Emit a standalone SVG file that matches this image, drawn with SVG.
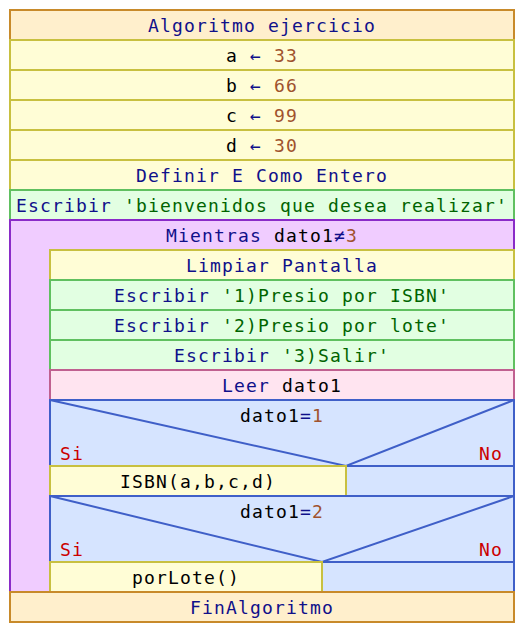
<svg xmlns="http://www.w3.org/2000/svg" width="524" height="632" viewBox="0 0 524 632">
<style>
rect,path,line{stroke-width:2}
.hd{fill:#ffefcc;stroke:#c88a2a}
.yl{fill:#fffdd6;stroke:#c8c040}
.gr{fill:#e2ffe2;stroke:#60c060}
.pu{fill:#f0ccff;stroke:#8a2bc8}
.pk{fill:#ffe4f0;stroke:#c06090}
.bl{fill:#d6e4ff;stroke:#3f5fc8}
.dg{stroke:#3f5fc8;fill:none}
text{font-family:"DejaVu Sans Mono","Liberation Mono",monospace;font-size:18px;letter-spacing:1.16px;fill:#000}
.c{text-anchor:middle}
.e{text-anchor:end}
.k{fill:#10108a}
.n{fill:#a0522d}
.s{fill:#006400}
.r{fill:#cc0000}
</style>
<g id="inicio"><rect class="hd" x="10" y="10" width="504" height="30"/><text class="c k" x="262" y="32">Algoritmo ejercicio</text></g>
<g id="asig-a"><rect class="yl" x="10" y="40" width="504" height="30"/><text class="c" x="262" y="62">a <tspan class="k">←</tspan> <tspan class="n">33</tspan></text></g>
<g id="asig-b"><rect class="yl" x="10" y="70" width="504" height="30"/><text class="c" x="262" y="92">b <tspan class="k">←</tspan> <tspan class="n">66</tspan></text></g>
<g id="asig-c"><rect class="yl" x="10" y="100" width="504" height="30"/><text class="c" x="262" y="122">c <tspan class="k">←</tspan> <tspan class="n">99</tspan></text></g>
<g id="asig-d"><rect class="yl" x="10" y="130" width="504" height="30"/><text class="c" x="262" y="152">d <tspan class="k">←</tspan> <tspan class="n">30</tspan></text></g>
<g id="definir"><rect class="yl" x="10" y="160" width="504" height="30"/><text class="c k" x="262" y="182">Definir E Como Entero</text></g>
<g id="escribir0"><rect class="gr" x="10" y="190" width="504" height="30"/><text class="c" x="262" y="212"><tspan class="k">Escribir</tspan> <tspan class="s">'bienvenidos que desea realizar'</tspan></text></g>
<g id="mientras"><rect class="pu" x="10" y="220" width="504" height="372"/><text class="c" x="262" y="242"><tspan class="k">Mientras</tspan> dato1<tspan class="k">≠</tspan><tspan class="n">3</tspan></text></g>
<g id="limpiar"><rect class="yl" x="50" y="250" width="464" height="30"/><text class="c k" x="282" y="272">Limpiar Pantalla</text></g>
<g id="escribir1"><rect class="gr" x="50" y="280" width="464" height="30"/><text class="c" x="282" y="302"><tspan class="k">Escribir</tspan> <tspan class="s">'1)Presio por ISBN'</tspan></text></g>
<g id="escribir2"><rect class="gr" x="50" y="310" width="464" height="30"/><text class="c" x="282" y="332"><tspan class="k">Escribir</tspan> <tspan class="s">'2)Presio por lote'</tspan></text></g>
<g id="escribir3"><rect class="gr" x="50" y="340" width="464" height="30"/><text class="c" x="282" y="362"><tspan class="k">Escribir</tspan> <tspan class="s">'3)Salir'</tspan></text></g>
<g id="leer"><rect class="pk" x="50" y="370" width="464" height="30"/><text class="c" x="282" y="392"><tspan class="k">Leer</tspan> dato1</text></g>
<g id="si1">
<rect class="bl" x="50" y="400" width="464" height="66"/>
<path class="dg" d="M50,400 L346,466 L514,400"/>
<text class="c" x="282" y="422">dato1<tspan class="k">=</tspan><tspan class="n">1</tspan></text>
<text class="r" x="60" y="460">Si</text>
<text class="r e" x="503" y="460">No</text>
<rect class="bl" x="346" y="466" width="168" height="30"/>
</g>
<g id="isbn"><rect class="yl" x="50" y="466" width="296" height="30"/><text class="c" x="198" y="488">ISBN(a,b,c,d)</text></g>
<g id="si2">
<rect class="bl" x="50" y="496" width="464" height="66"/>
<path class="dg" d="M50,496 L322,562 L514,496"/>
<text class="c" x="282" y="518">dato1<tspan class="k">=</tspan><tspan class="n">2</tspan></text>
<text class="r" x="60" y="556">Si</text>
<text class="r e" x="503" y="556">No</text>
<rect class="bl" x="322" y="562" width="192" height="30"/>
</g>
<g id="porlote"><rect class="yl" x="50" y="562" width="272" height="30"/><text class="c" x="186" y="584">porLote()</text></g>
<g id="fin"><rect class="hd" x="10" y="592" width="504" height="30"/><text class="c k" x="262" y="614">FinAlgoritmo</text></g>
</svg>
